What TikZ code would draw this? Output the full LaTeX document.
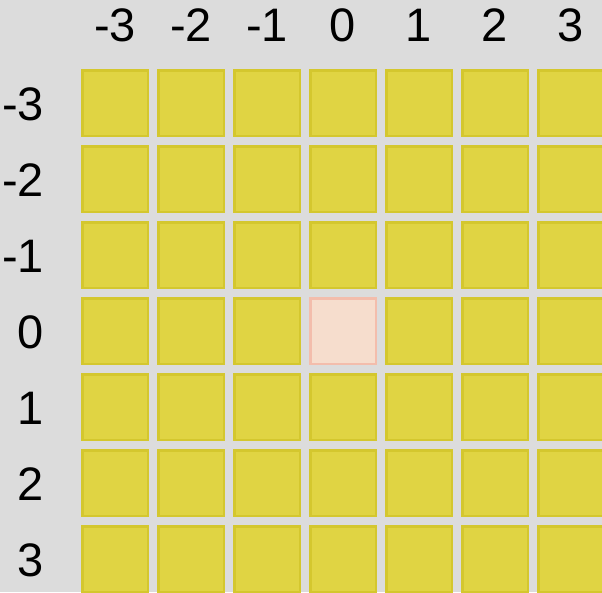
\documentclass[tikz,border=0pt]{standalone}
\usepackage{fontspec}
\setmainfont{Liberation Sans}
\definecolor{bg}{HTML}{DCDCDC}
\definecolor{yfill}{HTML}{E0D443}
\definecolor{ydraw}{HTML}{D4C72E}
\definecolor{pfill}{HTML}{F6DDCD}
\definecolor{pdraw}{HTML}{F3BDAC}
\tikzset{
  cell/.style={draw=ydraw, fill=yfill, line width=2.5pt, minimum size=65.5pt, inner sep=0pt, outer sep=0pt},
  centercell/.style={cell, draw=pdraw, fill=pfill},
  lbl/.style={inner sep=0pt, font=\fontsize{47}{47}\selectfont, text=black}
}
\begin{document}
\begin{tikzpicture}[x=1pt,y=-1pt]
\useasboundingbox (0,0) rectangle (602,592);
\fill[bg] (0,0) rectangle (602,592);
\foreach \i [count=\c from 0] in {-3,-2,-1,0,1,2,3} {
  \node[lbl, anchor=base] (col\c) at (115+76*\c, 41) {\i};
  \node[lbl, anchor=base east] (row\c) at (44, 120+76*\c) {\i};
}
\foreach \r in {0,...,6} {
  \foreach \c in {0,...,6} {
    \pgfmathtruncatemacro{\isc}{(\r==3 && \c==3) ? 1 : 0}
    \ifnum\isc=1
      \node[centercell] (cell\r\c) at (115+76*\c, 103+76*\r) {};
    \else
      \node[cell] (cell\r\c) at (115+76*\c, 103+76*\r) {};
    \fi
  }
}
\end{tikzpicture}
\end{document}
